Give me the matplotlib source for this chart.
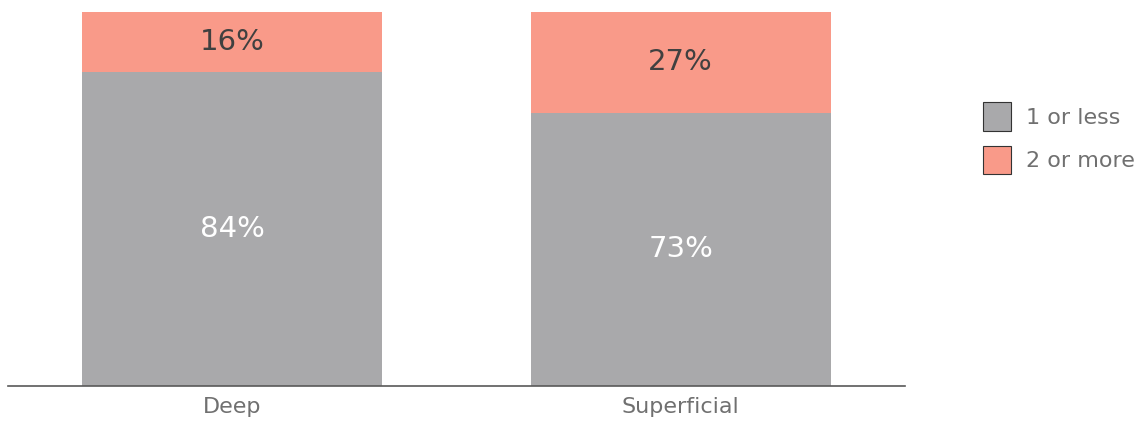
import numpy as np
import matplotlib.pyplot as plt
from matplotlib.patches import Patch

categories = ["Deep", "Superficial"]
low = [84, 73]    # 1 or less
high = [16, 27]   # 2 or more
series_names = ["1 or less", "2 or more"]

gray = "#a9a9ab"
salmon = "#f99a89"

fig = plt.figure(figsize=(11.48, 4.23), dpi=100)
ax = fig.add_axes([8/1148, 1 - 386/423, 897/1148, (386 - 12)/423])

x = np.arange(len(categories))
w = 0.668
ax.bar(x, low, width=w, color=gray)
ax.bar(x, high, width=w, bottom=low, color=salmon)

for i in range(len(categories)):
    ax.text(x[i], low[i]/2, f"{low[i]}%", ha="center", va="center",
            fontsize=21, color="white")
    ax.text(x[i], low[i] + high[i]/2, f"{high[i]}%", ha="center", va="center",
            fontsize=21, color="#404040")

ax.set_xlim(-0.5, 1.5)
ax.set_ylim(0, 100)
ax.set_xticks(x)
ax.set_xticklabels(categories, fontsize=16, color="#707070")
ax.tick_params(axis="x", length=0, pad=8)
ax.set_yticks([])
for s in ["left", "right", "top"]:
    ax.spines[s].set_visible(False)
ax.spines["bottom"].set_color("#595959")
ax.spines["bottom"].set_linewidth(1.2)

handles = [Patch(facecolor=gray, edgecolor="#333333", linewidth=0.8),
           Patch(facecolor=salmon, edgecolor="#333333", linewidth=0.8)]
leg = fig.legend(handles, series_names, loc="upper left",
                 bbox_to_anchor=(983/1148, 1 - 102/423), frameon=False,
                 fontsize=16, handlelength=1.25, handleheight=1.6,
                 handletextpad=0.7, labelspacing=0.68, borderpad=0,
                 borderaxespad=0)
for t in leg.get_texts():
    t.set_color("#707070")

fig.savefig("out.png", dpi=100)
